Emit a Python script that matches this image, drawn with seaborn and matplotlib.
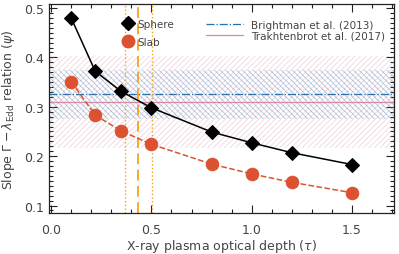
import seaborn as sns
import matplotlib.pyplot as plt
from matplotlib.lines import Line2D
import numpy as np
import pandas as pd

# data
tau = [0.1, 0.22, 0.35, 0.5, 0.8, 1.0, 1.2, 1.5]
psi_sphere = [0.48, 0.372, 0.331, 0.298, 0.249, 0.227, 0.207, 0.183]
psi_slab = [0.351, 0.283, 0.251, 0.224, 0.184, 0.164, 0.147, 0.126]

brightman_psi = 0.325
brightman_err = 0.05
trakh_psi = 0.309
trakh_err = 0.093

tau_best = 0.435
tau_low = 0.367
tau_high = 0.505

sns.set_style('ticks')
plt.rcParams['font.family'] = ['DejaVu Sans']
plt.rcParams['mathtext.fontset'] = 'dejavusans'
plt.rcParams['hatch.linewidth'] = 0.6

txt = '#444444'
red = '#dc5230'
blue = '#2b6fa8'
pink = '#d48aa6'
orange = '#f7a21b'

df = pd.DataFrame({'tau': tau, 'Sphere': psi_sphere, 'Slab': psi_slab})

fig = plt.figure(figsize=(3.99, 2.55), dpi=100)
ax = fig.add_axes([0.123, 0.161, 0.865, 0.819])

xlo, xhi = -0.01, 1.71
# literature bands
ax.fill_between([xlo, xhi], trakh_psi - trakh_err, trakh_psi + trakh_err,
                facecolor='none', edgecolor=pink, hatch='//////', linewidth=0, alpha=0.35)
ax.fill_between([xlo, xhi], brightman_psi - brightman_err, brightman_psi + brightman_err,
                facecolor='none', edgecolor=blue, hatch='\\\\\\\\\\\\', linewidth=0, alpha=0.4)
ax.axhline(brightman_psi, color=blue, ls='-.', lw=0.9)
ax.axhline(trakh_psi, color=pink, ls='-', lw=0.9)

# optical depth estimate
ax.axvline(tau_best, color=orange, ls=(0, (6, 3)), lw=1.3)
ax.axvline(tau_low, color=orange, ls=':', lw=1.0)
ax.axvline(tau_high, color=orange, ls=':', lw=1.0)

sns.lineplot(data=df, x='tau', y='Sphere', ax=ax, color='black', lw=1.1,
             marker='D', markersize=7, markeredgecolor='black')
sns.lineplot(data=df, x='tau', y='Slab', ax=ax, color=red, lw=1.1, ls='--',
             marker='o', markersize=9, markeredgecolor=red)

ax.set_xlim(xlo, xhi)
ax.set_ylim(0.085, 0.508)
ax.set_xticks([0.0, 0.5, 1.0, 1.5])
ax.set_xticks(np.arange(0.1, 1.71, 0.1), minor=True)
ax.set_yticks([0.1, 0.2, 0.3, 0.4, 0.5])
ax.set_yticks(np.arange(0.09, 0.51, 0.01), minor=True)
ax.xaxis.set_major_formatter(plt.FormatStrFormatter('%.1f'))
ax.yaxis.set_major_formatter(plt.FormatStrFormatter('%.1f'))
ax.tick_params(which='both', direction='in', top=True, right=True, colors='#222222',
               labelcolor=txt, labelsize=9, width=0.8)
ax.tick_params(which='major', length=6)
ax.tick_params(which='minor', length=3)
ax.tick_params(axis='x', which='major', pad=7)
for s in ax.spines.values():
    s.set_linewidth(0.9)
    s.set_color('#222222')

ax.set_xlabel(r'X-ray plasma optical depth ($\tau$)', fontsize=9, color=txt, labelpad=1)
ax.set_ylabel(r'Slope $\Gamma-\lambda_{\rm Edd}$ relation ($\psi$)', fontsize=9, color=txt, labelpad=5)

h1 = [Line2D([], [], ls='none', marker='D', color='black', markersize=7),
      Line2D([], [], ls='none', marker='o', color=red, markersize=9)]
leg1 = ax.legend(h1, ['Sphere', 'Slab'], loc='upper left', bbox_to_anchor=(0.182, 0.975),
                 frameon=False, fontsize=7.5, handletextpad=0.3, labelspacing=0.75,
                 handlelength=1.2, labelcolor=txt)
ax.add_artist(leg1)
h2 = [Line2D([], [], ls='-.', color=blue, lw=0.9),
      Line2D([], [], ls='-', color=pink, lw=0.9)]
ax.legend(handles=h2, labels=['Brightman et al. (2013)', 'Trakhtenbrot et al. (2017)'],
          loc='upper right', bbox_to_anchor=(1.0, 0.97), frameon=False, fontsize=7.5,
          handlelength=3.5, labelspacing=0.1, labelcolor=txt)

fig.savefig('out.png', dpi=100)
